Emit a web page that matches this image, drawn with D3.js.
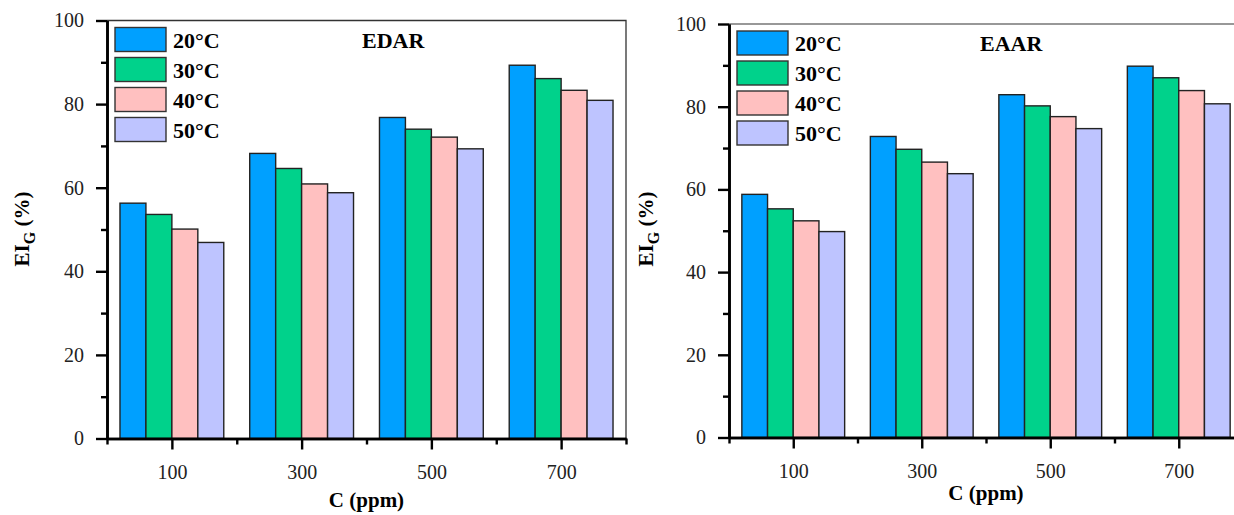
<!DOCTYPE html>
<html>
<head>
<meta charset="utf-8">
<script src="https://cdn.jsdelivr.net/npm/d3@7"></script>
<style>
  body { margin: 0; background: #fff; }
  svg { display: block; font-family: "Liberation Serif", "Times New Roman", serif; }
  .axis .domain { stroke: #000; stroke-width: 2.6px; }
  .axis line { stroke: #000; stroke-width: 2.4px; }
  .axis text { fill: #222; font-size: 20px; font-family: "Liberation Serif", "Times New Roman", serif; }
</style>
</head>
<body>
<div id="chart"></div>
<script>
// data
const concentrations = [100, 300, 500, 700];
const temperatures = ["20°C", "30°C", "40°C", "50°C"];
const barColors = ["#00a0ff", "#00d28b", "#ffc0c0", "#bec4ff"];

// EDAR panel, one array per temperature (100, 300, 500, 700 ppm)
const edar20 = [56.3, 68.2, 76.8, 89.3];
const edar30 = [53.6, 64.6, 74.0, 86.1];
const edar40 = [50.1, 60.9, 72.1, 83.3];
const edar50 = [46.9, 58.8, 69.3, 80.9];

// EAAR panel
const eaar20 = [58.8, 72.8, 82.9, 89.8];
const eaar30 = [55.3, 69.7, 80.2, 87.0];
const eaar40 = [52.4, 66.6, 77.6, 83.9];
const eaar50 = [49.8, 63.8, 74.7, 80.7];

const yMajor = [0, 20, 40, 60, 80, 100];
const yMinor = [10, 30, 50, 70, 90];
const xMinor = [0, 200, 400, 600, 800];

const svg = d3.select("#chart").append("svg")
    .attr("width", 1234)
    .attr("height", 515);

function drawPanel(p) {
    let series = p.series;
    let x = d3.scaleLinear().domain([0, 800]).range([p.left, p.right]);
    let y = d3.scaleLinear().domain([0, 100]).range([p.bottom, p.top]);
    let g = svg.append("g");

    // frame (top + right)
    g.append("path")
        .attr("d", `M${p.left},${p.top}H${p.right}V${p.bottom}`)
        .attr("fill", "none")
        .attr("stroke", p.frameColor)
        .attr("stroke-width", 1.3);

    // bars
    let rows = [];
    concentrations.forEach((c, i) => {
        series.forEach((s, j) => rows.push({c: c, j: j, v: s[i]}));
    });
    let bw = x(40) - x(0);
    g.selectAll("rect.bar")
        .data(rows)
        .enter().append("rect")
        .attr("class", "bar")
        .attr("x", d => x(d.c - 80 + 40 * d.j))
        .attr("y", d => y(d.v))
        .attr("width", bw)
        .attr("height", d => y(0) - y(d.v))
        .attr("fill", d => barColors[d.j])
        .attr("stroke", "#222")
        .attr("stroke-width", 1.4);

    // axes
    g.append("g").attr("class", "axis")
        .attr("transform", `translate(0,${p.bottom})`)
        .call(d3.axisBottom(x).tickValues(xMinor).tickSize(6).tickSizeOuter(0).tickFormat(""));
    g.append("g").attr("class", "axis")
        .attr("transform", `translate(0,${p.bottom})`)
        .call(d3.axisBottom(x).tickValues(concentrations).tickSize(11).tickSizeOuter(0).tickPadding(15));
    g.append("g").attr("class", "axis")
        .attr("transform", `translate(${p.left},0)`)
        .call(d3.axisLeft(y).tickValues(yMinor).tickSize(6).tickSizeOuter(0).tickFormat(""));
    g.append("g").attr("class", "axis")
        .attr("transform", `translate(${p.left},0)`)
        .call(d3.axisLeft(y).tickValues(yMajor).tickSize(11).tickSizeOuter(0).tickPadding(12));

    // axis titles
    g.append("text")
        .attr("x", (p.left + p.right) / 2)
        .attr("y", p.xTitleY)
        .attr("text-anchor", "middle")
        .attr("font-size", 21)
        .attr("font-weight", "bold")
        .text("C (ppm)");

    let yt = g.append("text")
        .attr("transform", `translate(${p.yTitleX},229) rotate(-90)`)
        .attr("text-anchor", "middle")
        .attr("font-size", 21)
        .attr("font-weight", "bold");
    yt.append("tspan").text("EI");
    yt.append("tspan").attr("font-size", 16).attr("dy", 6).text("G");
    yt.append("tspan").attr("dy", -6).text(" (%)");

    // panel label
    g.append("text")
        .attr("x", p.titleX)
        .attr("y", p.titleY)
        .attr("font-size", 22)
        .attr("font-weight", "bold")
        .text(p.title);

    // legend
    let lg = g.append("g").attr("transform", `translate(${p.left + 8},${p.top + 7})`);
    temperatures.forEach((t, i) => {
        lg.append("rect")
            .attr("x", 0).attr("y", i * 30)
            .attr("width", 51).attr("height", 24)
            .attr("fill", barColors[i])
            .attr("stroke", "#333")
            .attr("stroke-width", 1.4);
        lg.append("text")
            .attr("x", 58).attr("y", i * 30 + 20)
            .attr("font-size", 22)
            .attr("font-weight", "bold")
            .text(t);
    });
}

drawPanel({
    series: [edar20, edar30, edar40, edar50],
    left: 107, right: 626, top: 20.5, bottom: 438.5,
    frameColor: "#333",
    title: "EDAR", titleX: 362, titleY: 48,
    xTitleY: 507, yTitleX: 29
});

drawPanel({
    series: [eaar20, eaar30, eaar40, eaar50],
    left: 729, right: 1243, top: 24, bottom: 437.5,
    frameColor: "#777",
    title: "EAAR", titleX: 980, titleY: 51,
    xTitleY: 500, yTitleX: 653
});
</script>
</body>
</html>
